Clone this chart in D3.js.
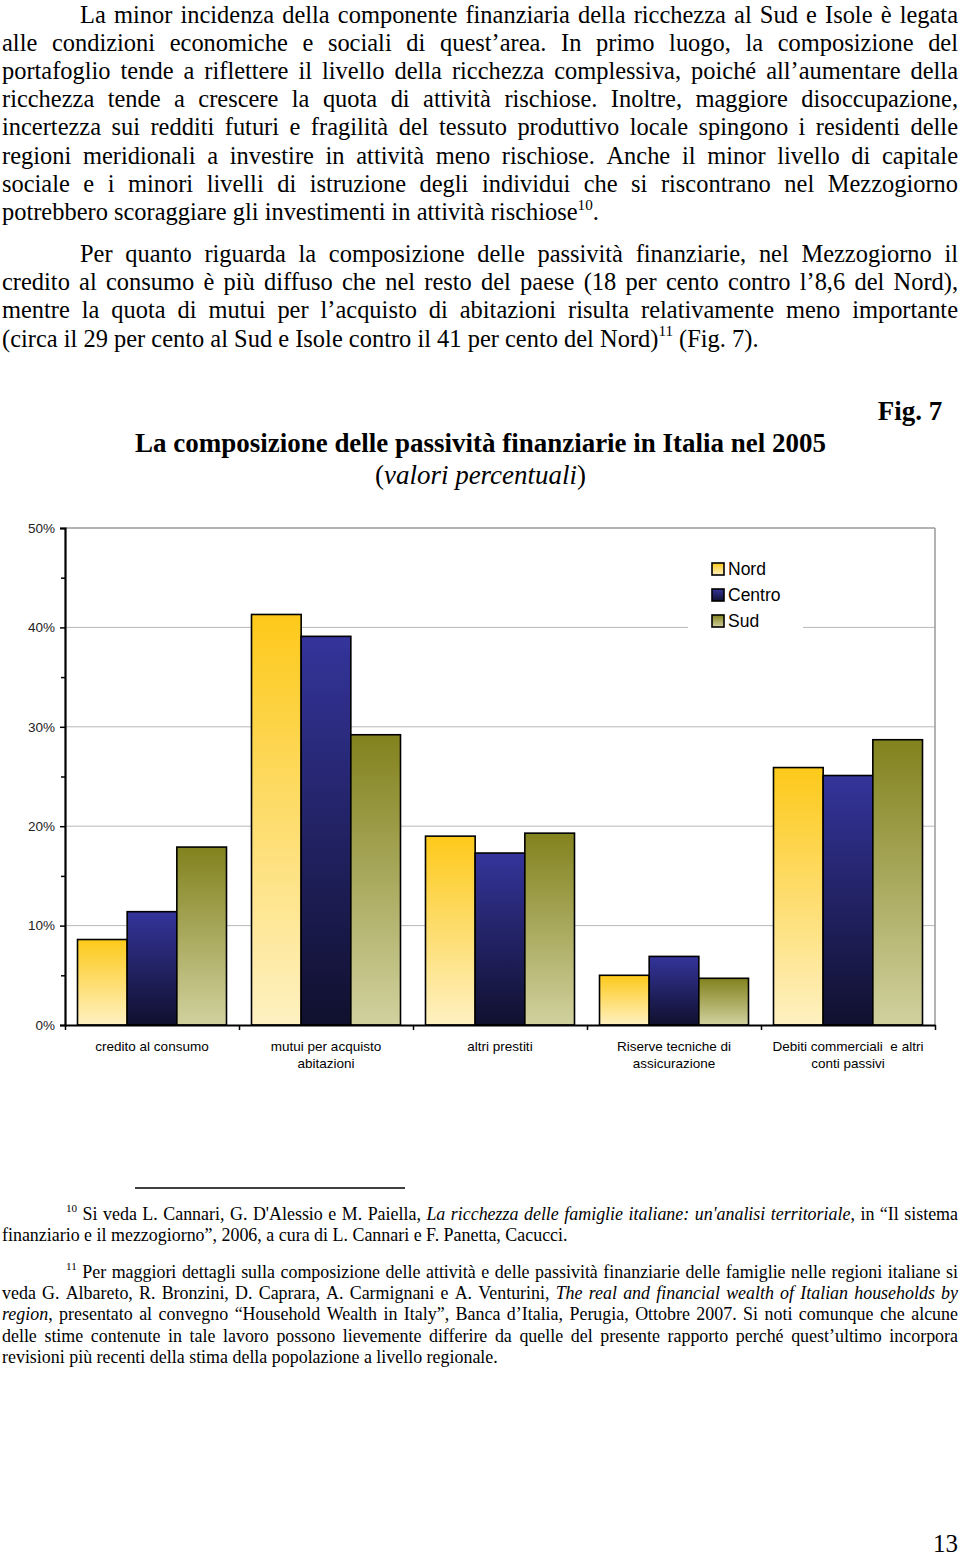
<!DOCTYPE html>
<html>
<head>
<meta charset="utf-8">
<script src="https://cdn.jsdelivr.net/npm/d3@7"></script>
<style>
html,body{margin:0;padding:0;background:#fff;}
svg{display:block;}
</style>
</head>
<body>
<svg id="page" width="960" height="1557"></svg>
<script>
// ---------------- DATA ----------------
const categories = ["credito al consumo", "mutui per acquisto abitazioni", "altri prestiti", "Riserve tecniche di assicurazione", "Debiti commerciali  e altri conti passivi"];
const categoryLines = [["credito al consumo"], ["mutui per acquisto", "abitazioni"], ["altri prestiti"], ["Riserve tecniche di", "assicurazione"], ["Debiti commerciali  e altri", "conti passivi"]];
const seriesNames = ["Nord", "Centro", "Sud"];
const nord   = [8.6, 41.3, 19.0, 5.0, 25.9];
const centro = [11.4, 39.1, 17.3, 6.9, 25.1];
const sud    = [17.9, 29.2, 19.3, 4.7, 28.7];
const yTicks = [0, 10, 20, 30, 40, 50];
const yMinorTicks = [5, 15, 25, 35, 45];

const chartTitle = "La composizione delle passività finanziarie in Italia nel 2005";
const chartSubtitle = "(_valori percentuali_)";
const figLabel = "Fig. 7";

const para1 = [
  "La minor incidenza della componente finanziaria della ricchezza al Sud e Isole è legata",
  "alle condizioni economiche e sociali di quest’area. In primo luogo, la composizione del",
  "portafoglio tende a riflettere il livello della ricchezza complessiva, poiché all’aumentare della",
  "ricchezza tende a crescere la quota di attività rischiose. Inoltre, maggiore disoccupazione,",
  "incertezza sui redditi futuri e fragilità del tessuto produttivo locale spingono i residenti delle",
  "regioni meridionali a investire in attività meno rischiose. Anche il minor livello di capitale",
  "sociale e i minori livelli di istruzione degli individui che si riscontrano nel Mezzogiorno",
  "potrebbero scoraggiare gli investimenti in attività rischiose^{10}."
];
const para2 = [
  "Per quanto riguarda la composizione delle passività finanziarie, nel Mezzogiorno il",
  "credito al consumo è più diffuso che nel resto del paese (18 per cento contro l’8,6 del Nord),",
  "mentre la quota di mutui per l’acquisto di abitazioni risulta relativamente meno importante",
  "(circa il 29 per cento al Sud e Isole contro il 41 per cento del Nord)^{11} (Fig. 7)."
];
const note10 = [
  "^{10} Si veda L. Cannari, G. D'Alessio e M. Paiella, _La ricchezza delle famiglie italiane: un'analisi territoriale_, in “Il sistema",
  "finanziario e il mezzogiorno”, 2006, a cura di L. Cannari e F. Panetta, Cacucci."
];
const note11 = [
  "^{11} Per maggiori dettagli sulla composizione delle attività e delle passività finanziarie delle famiglie nelle regioni italiane si",
  "veda G. Albareto, R. Bronzini, D. Caprara, A. Carmignani e A. Venturini, _The real and financial wealth of Italian households by_",
  "_region_, presentato al convegno “Household Wealth in Italy”, Banca d’Italia, Perugia, Ottobre 2007. Si noti comunque che alcune",
  "delle stime contenute in tale lavoro possono lievemente differire da quelle del presente rapporto perché quest’ultimo incorpora",
  "revisioni più recenti della stima della popolazione a livello regionale."
];
const pageNumber = "13";

// ---------------- TEXT HELPERS ----------------
const svg = d3.select("#page");
const SERIF = "'Liberation Serif','Times New Roman',serif";
const SANS = "'Liberation Sans',Arial,sans-serif";

function parseLine(str) {
  let it = false, b = false;
  return str.split(" ").filter(w => w.length).map(w => {
    const pieces = []; let buf = "", i = 0;
    const flush = () => { if (buf) { pieces.push({t: buf, it, b, sup: false}); buf = ""; } };
    while (i < w.length) {
      const ch = w[i];
      if (ch === "_") { flush(); it = !it; i++; }
      else if (ch === "*") { flush(); b = !b; i++; }
      else if (ch === "^" && w[i + 1] === "{") {
        flush(); const j = w.indexOf("}", i);
        pieces.push({t: w.slice(i + 2, j), it, b, sup: true}); i = j + 1;
      } else { buf += ch; i++; }
    }
    flush();
    return pieces;
  });
}

function makeWord(g, pieces, y, fs, bold) {
  const t = g.append("text").attr("y", y)
    .style("font-family", SERIF).style("font-size", fs + "px").attr("fill", "#000");
  let raised = false;
  pieces.forEach(p => {
    const ts = t.append("tspan").text(p.t)
      .style("font-style", p.it ? "italic" : "normal")
      .style("font-weight", (p.b || bold) ? "bold" : "normal");
    if (p.sup) {
      ts.style("font-size", (fs * 0.62) + "px").attr("dy", raised ? 0 : -fs * 0.42);
      raised = true;
    } else if (raised) {
      ts.attr("dy", fs * 0.42); raised = false;
    }
  });
  return t;
}

function measureLine(str, fs, bold) {
  const g = svg.append("g");
  const words = parseLine(str);
  const w = d3.sum(words, p => makeWord(g, p, 0, fs, bold).node().getComputedTextLength());
  g.remove();
  return w + (words.length - 1) * fs * 0.25;
}

function drawLine(g, str, x0, x1, y, fs, justify, opts = {}) {
  const words = parseLine(str);
  const nodes = words.map(p => makeWord(g, p, y, fs, opts.bold));
  const widths = nodes.map(n => n.node().getComputedTextLength());
  const total = d3.sum(widths);
  let gap = fs * 0.25;
  if (justify && words.length > 1) gap = (x1 - x0 - total) / (words.length - 1);
  let x = x0;
  if (opts.center) x = opts.center - (total + gap * (words.length - 1)) / 2;
  nodes.forEach((n, i) => { n.attr("x", x); x += widths[i] + gap; });
}

function fitSize(str, target, bold) {
  return 100 * target / measureLine(str, 100, bold);
}

// ---------------- BODY TEXT ----------------
const bodyFs = fitSize("potrebbero scoraggiare gli investimenti in attività rischiose", 576);
const bodyG = svg.append("g");
const lh = 28.2;
const firstBase = Math.max(21.5, bodyFs * 0.9 + 0.5);
para1.forEach((l, i) => {
  drawLine(bodyG, l, i === 0 ? 80 : 2, 958, firstBase + i * lh, bodyFs, i < para1.length - 1);
});
para2.forEach((l, i) => {
  drawLine(bodyG, l, i === 0 ? 80 : 2, 958, 262 + i * lh, bodyFs, i < para2.length - 1);
});

// ---------------- TITLE ----------------
const titleFs = fitSize(chartTitle, 691, true);
drawLine(bodyG, chartTitle, 0, 0, 452, titleFs, false, {bold: true, center: 480.5});
drawLine(bodyG, chartSubtitle, 0, 0, 484, titleFs, false, {center: 480.5});
drawLine(bodyG, figLabel, 0, 0, 420, titleFs, false, {bold: true, center: 910});

// ---------------- CHART ----------------
const margin = {left: 65, right: 935, top: 528, bottom: 1025};
const x0 = d3.scaleBand().domain(categories).range([margin.left, margin.right]).padding(0);
const x1 = d3.scaleBand().domain(seriesNames).range([12.5, x0.bandwidth() - 12.5]).padding(0);
const y = d3.scaleLinear().domain([0, 50]).range([margin.bottom, margin.top]);

const data = categories.map((c, i) => ({cat: c, values: [
  {s: "Nord", v: nord[i]}, {s: "Centro", v: centro[i]}, {s: "Sud", v: sud[i]}
]}));

const defs = svg.append("defs");
const gradColors = {
  Nord:   ["#FDC91A", "#FEF1C2"],
  Centro: ["#34349B", "#10102E"],
  Sud:    ["#82821E", "#D1D19F"]
};
seriesNames.forEach(s => {
  const lg = defs.append("linearGradient").attr("id", "grad-" + s)
    .attr("x1", 0).attr("y1", 0).attr("x2", 0).attr("y2", 1);
  lg.append("stop").attr("offset", "0%").attr("stop-color", gradColors[s][0]);
  lg.append("stop").attr("offset", "100%").attr("stop-color", gradColors[s][1]);
});

const chart = svg.append("g");

// gridlines
chart.append("g").selectAll("line").data(yTicks.filter(d => d > 0)).join("line")
  .attr("x1", margin.left).attr("x2", margin.right)
  .attr("y1", d => y(d)).attr("y2", d => y(d))
  .attr("stroke", d => d === 50 ? "#9a9a9a" : "#b8b8b8")
  .attr("stroke-width", d => d === 50 ? 1.5 : 1);
// right border
chart.append("line").attr("x1", margin.right).attr("x2", margin.right)
  .attr("y1", y(50)).attr("y2", y(0)).attr("stroke", "#9a9a9a").attr("stroke-width", 1.5);

// bars
const groups = chart.append("g").selectAll("g").data(data).join("g")
  .attr("transform", d => `translate(${x0(d.cat)},0)`);
groups.selectAll("rect").data(d => d.values).join("rect")
  .attr("x", d => x1(d.s)).attr("width", x1.bandwidth())
  .attr("y", d => y(d.v)).attr("height", d => y(0) - y(d.v))
  .attr("fill", d => `url(#grad-${d.s})`)
  .attr("stroke", "#000").attr("stroke-width", 1.6);

// legend
const lgX = 712, lgY = 569;
const legend = chart.append("g");
legend.append("rect").attr("x", 688).attr("y", 552).attr("width", 115).attr("height", 85).attr("fill", "#fff");
seriesNames.forEach((s, i) => {
  const cy = lgY + i * 26;
  legend.append("rect").attr("x", lgX).attr("y", cy - 6).attr("width", 12).attr("height", 12)
    .attr("fill", `url(#grad-${s})`).attr("stroke", "#000").attr("stroke-width", 1.6);
  legend.append("text").attr("x", lgX + 16).attr("y", cy + 6.3).text(s)
    .style("font-family", SANS).style("font-size", "17.5px").attr("fill", "#000");
});

// y axis
const yAxis = d3.axisLeft(y).tickValues(yTicks).tickFormat(d => d + "%").tickSize(5).tickPadding(5);
const yg = chart.append("g").attr("transform", `translate(${margin.left},0)`).call(yAxis);
yg.select(".domain").attr("stroke", "#000").attr("stroke-width", 2.2);
yg.selectAll(".tick line").attr("stroke", "#000").attr("stroke-width", 1.5);
yg.selectAll(".tick text").style("font-family", SANS).style("font-size", "13.5px").attr("fill", "#222");
const yMinor = d3.axisLeft(y).tickValues(yMinorTicks).tickFormat("").tickSize(4);
const ym = chart.append("g").attr("transform", `translate(${margin.left},0)`).call(yMinor);
ym.select(".domain").remove();
ym.selectAll(".tick line").attr("stroke", "#000").attr("stroke-width", 1.5);

// x axis
const xEdges = d3.scaleLinear().domain([0, categories.length]).range([margin.left, margin.right]);
const xAxis = d3.axisBottom(xEdges).tickValues(d3.range(0, categories.length + 1)).tickFormat("").tickSize(5).tickSizeOuter(0);
const xg = chart.append("g").attr("transform", `translate(0,${y(0)})`).call(xAxis);
xg.select(".domain").attr("stroke", "#000").attr("stroke-width", 2.2);
xg.selectAll(".tick line").attr("stroke", "#000").attr("stroke-width", 1.5);

// category labels
categories.forEach((c, i) => {
  const cx = x0(c) + x0.bandwidth() / 2;
  const t = chart.append("text").attr("text-anchor", "middle")
    .style("font-family", SANS).style("font-size", "13.5px").attr("fill", "#000");
  categoryLines[i].forEach((line, j) => {
    t.append("tspan").attr("x", cx).attr("y", 1051 + j * 17).style("white-space", "pre").text(line);
  });
});

// ---------------- FOOTNOTES ----------------
svg.append("line").attr("x1", 135).attr("x2", 405).attr("y1", 1188).attr("y2", 1188)
  .attr("stroke", "#000").attr("stroke-width", 1.5);
const noteFs = fitSize("revisioni più recenti della stima della popolazione a livello regionale.", 496);
const noteG = svg.append("g");
const nlh = 21.2;
note10.forEach((l, i) => {
  drawLine(noteG, l, i === 0 ? 66 : 2, 958, 1220 + i * nlh, noteFs, i < note10.length - 1);
});
note11.forEach((l, i) => {
  drawLine(noteG, l, i === 0 ? 66 : 2, 958, 1278 + i * nlh, noteFs, i < note11.length - 1);
});

// page number
svg.append("text").attr("x", 958).attr("y", 1552).attr("text-anchor", "end").text(pageNumber)
  .style("font-family", SERIF).style("font-size", "25px").attr("fill", "#000");
</script>
</body>
</html>
